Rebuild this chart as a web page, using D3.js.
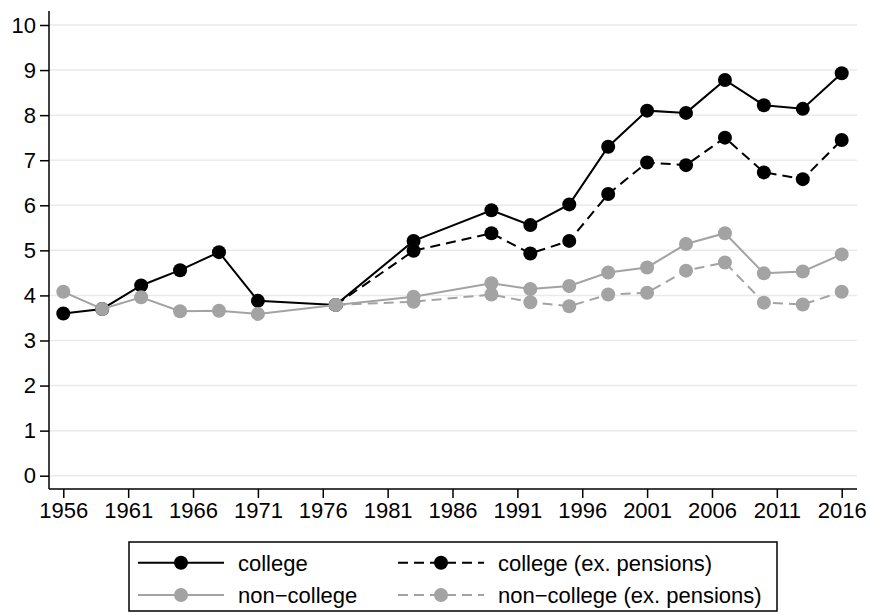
<!DOCTYPE html>
<html>
<head>
<meta charset="utf-8">
<script src="https://cdn.jsdelivr.net/npm/d3@7"></script>
<style>
  html, body { margin: 0; padding: 0; background: #fff; }
  svg { display: block; font-family: "Liberation Sans", Arial, sans-serif; }
</style>
</head>
<body>
<svg id="chart" width="869" height="613"></svg>
<script>
const years = [1956,1959,1962,1965,1968,1971,1977,1983,1989,1992,1995,1998,2001,2004,2007,2010,2013,2016];
const college = [3.60,3.70,4.22,4.56,4.96,3.88,3.79,5.21,5.89,5.56,6.02,7.30,8.10,8.05,8.78,8.22,8.14,8.93];
const nonCollege = [4.08,3.70,3.96,3.65,3.66,3.59,3.79,3.97,4.27,4.14,4.21,4.51,4.62,5.14,5.38,4.49,4.53,4.91];
const exYears = [1977,1983,1989,1992,1995,1998,2001,2004,2007,2010,2013,2016];
const collegeEx = [3.79,4.99,5.38,4.93,5.21,6.25,6.95,6.89,7.50,6.73,6.58,7.45];
const nonCollegeEx = [3.79,3.86,4.02,3.85,3.76,4.02,4.06,4.55,4.73,3.84,3.80,4.08];
const xTicks = [1956,1961,1966,1971,1976,1981,1986,1991,1996,2001,2006,2011,2016];
const yTicks = [0,1,2,3,4,5,6,7,8,9,10];
const legendLabels = ["college", "college (ex. pensions)", "non\u2212college", "non\u2212college (ex. pensions)"];

const BLACK = "#000", GRAY = "#a3a3a3";
const FONT = 22;
const svg = d3.select("#chart");
const plotL = 49, plotR = 857, plotT = 11, plotB = 489;
const x = d3.scaleLinear().domain([1956, 2016]).range([63.3, 841.7]);
const y = d3.scaleLinear().domain([0, 10]).range([475.7, 25]);

// gridlines
svg.append("g").selectAll("line").data(yTicks).join("line")
  .attr("x1", plotL).attr("x2", plotR)
  .attr("y1", d => y(d)).attr("y2", d => y(d))
  .attr("stroke", "#eaeaea").attr("stroke-width", 1.5);

// axes
const yAxis = svg.append("g").attr("transform", `translate(${plotL},0)`)
  .call(d3.axisLeft(y).tickValues(yTicks).tickSize(9).tickPadding(4).tickFormat(d3.format("d")));
yAxis.select(".domain").remove();
svg.append("line").attr("x1", plotL).attr("x2", plotL).attr("y1", plotT).attr("y2", plotB)
  .attr("stroke", "#000").attr("stroke-width", 1.5);

const xAxis = svg.append("g").attr("transform", `translate(0,${plotB})`)
  .call(d3.axisBottom(x).tickValues(xTicks).tickSize(9).tickPadding(4).tickFormat(d3.format("d")));
xAxis.select(".domain").remove();
svg.append("line").attr("x1", plotL).attr("x2", plotR).attr("y1", plotB).attr("y2", plotB)
  .attr("stroke", "#000").attr("stroke-width", 1.5);

[yAxis, xAxis].forEach(g => {
  g.attr("font-size", FONT).attr("font-family", "Liberation Sans, Arial, sans-serif");
  g.selectAll("line").attr("stroke", "#000").attr("stroke-width", 1.5);
  g.selectAll("text").attr("font-size", FONT).attr("fill", "#000");
});

// series
const series = [
  { xs: years, ys: college, color: BLACK, dash: null },
  { xs: exYears, ys: collegeEx, color: BLACK, dash: "10,6" },
  { xs: years, ys: nonCollege, color: GRAY, dash: null },
  { xs: exYears, ys: nonCollegeEx, color: GRAY, dash: "10,6" }
];
const line = d3.line().x(d => x(d[0])).y(d => y(d[1]));
series.forEach(s => {
  const pts = s.xs.map((yr, i) => [yr, s.ys[i]]);
  const g = svg.append("g");
  g.append("path").datum(pts).attr("d", line)
    .attr("fill", "none").attr("stroke", s.color).attr("stroke-width", 2)
    .attr("stroke-dasharray", s.dash);
  g.selectAll("circle").data(pts).join("circle")
    .attr("cx", d => x(d[0])).attr("cy", d => y(d[1])).attr("r", 7)
    .attr("fill", s.color);
});

// legend
const lg = svg.append("g");
lg.append("rect").attr("x", 129).attr("y", 542).attr("width", 648).attr("height", 69)
  .attr("fill", "#fff").attr("stroke", "#000").attr("stroke-width", 1.5);
const legendItems = [
  { s: series[0], label: legendLabels[0], lx: 138, ly: 562.7 },
  { s: series[1], label: legendLabels[1], lx: 398, ly: 562.7 },
  { s: series[2], label: legendLabels[2], lx: 138, ly: 595 },
  { s: series[3], label: legendLabels[3], lx: 398, ly: 595 }
];
legendItems.forEach(it => {
  lg.append("line").attr("x1", it.lx).attr("x2", it.lx + 86).attr("y1", it.ly).attr("y2", it.ly)
    .attr("stroke", it.s.color).attr("stroke-width", 2).attr("stroke-dasharray", it.s.dash);
  lg.append("circle").attr("cx", it.lx + 43).attr("cy", it.ly).attr("r", 7).attr("fill", it.s.color);
  lg.append("text").attr("x", it.lx + 100).attr("y", it.ly + 8)
    .attr("font-size", FONT).attr("fill", "#000").text(it.label);
});
</script>
</body>
</html>
